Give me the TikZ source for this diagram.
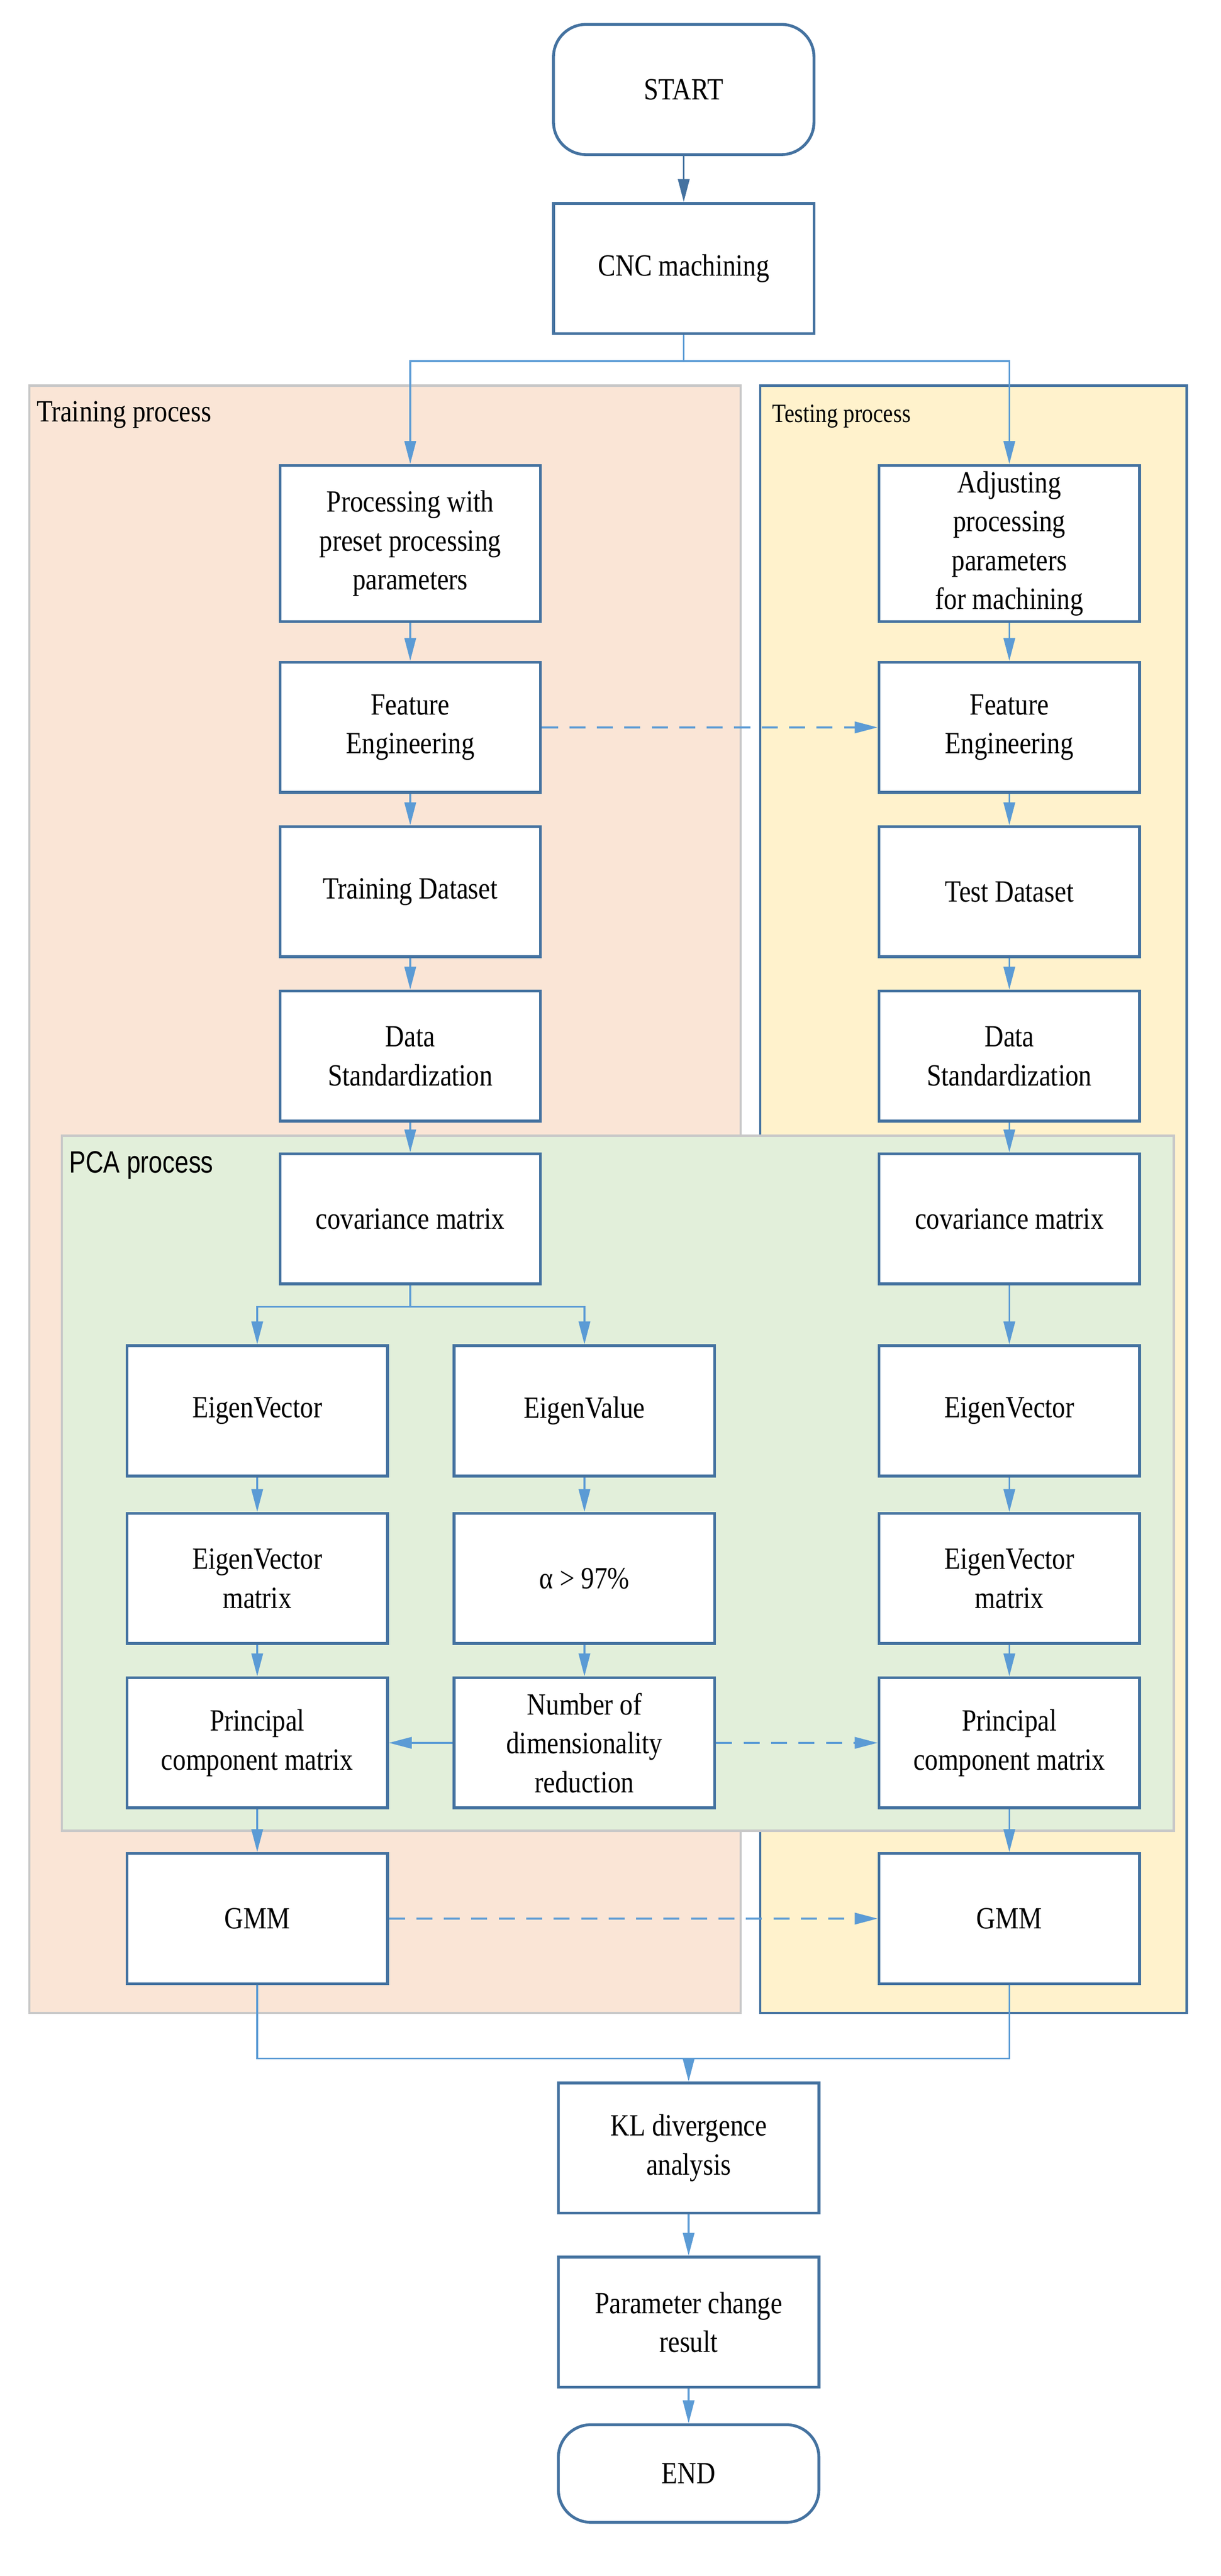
\documentclass[tikz,border=0pt]{standalone}
\usepackage{fontspec}
\setmainfont{Liberation Serif}[FakeStretch=0.85]
\newfontfamily\pcafont{Liberation Sans}[FakeStretch=0.8]
\usetikzlibrary{arrows.meta}
\definecolor{bordc}{RGB}{68,114,160}
\definecolor{linec}{RGB}{91,155,213}
\definecolor{trainc}{RGB}{250,229,214}
\definecolor{testc}{RGB}{255,242,204}
\definecolor{pcac}{RGB}{226,239,218}
\definecolor{grayb}{RGB}{200,200,200}
\begin{document}
\begin{tikzpicture}[
  box/.style={draw=bordc,line width=2.5pt,fill=white,minimum width=8cm,minimum height=4cm,align=center,font=\fontsize{27}{34}\selectfont,inner sep=2pt},
  tall/.style={box,minimum height=4.8cm},
  term/.style={box,rounded corners=1cm},
  arr/.style={draw=linec,line width=1.6pt,-{Triangle[length=20pt,width=10pt]}},
  ln/.style={draw=linec,line width=1.6pt},
  dsh/.style={arr,dash pattern=on 14pt off 10pt}
]
\useasboundingbox (0,0) rectangle (37.5,-79.15);
\fill[white] (0,0) rectangle (37.5,-79.15);
% backgrounds
\draw[grayb,fill=trainc,line width=2pt] (0.9,-11.85) rectangle (22.75,-61.85);
\draw[bordc,fill=testc,line width=2pt] (23.35,-11.85) rectangle (36.45,-61.85);
\draw[grayb,fill=pcac,line width=2pt] (1.9,-34.9) rectangle (36.05,-56.25);
\node[anchor=west,font=\fontsize{27}{32}\selectfont] (lt) at (1.0,-12.75) {Training process};
\node[anchor=west,font=\fontsize{23}{28}\selectfont] (ls) at (23.6,-12.8) {Testing process};
\node[anchor=west,font=\pcafont\fontsize{27}{32}\selectfont] (lp) at (2.0,-35.8) {PCA process};
% nodes
\node[term] (start) at (21,-2.75) {START};
\node[box] (cnc) at (21,-8.25) {CNC machining};
\node[tall] (proc) at (12.6,-16.7) {Processing with\\preset processing\\parameters};
\node[tall] (adj) at (31,-16.7) {Adjusting\\processing\\parameters\\for machining};
\node[box] (fe1) at (12.6,-22.35) {Feature\\Engineering};
\node[box] (fe2) at (31,-22.35) {Feature\\Engineering};
\node[box] (td1) at (12.6,-27.4) {Training Dataset};
\node[box] (td2) at (31,-27.4) {Test Dataset};
\node[box] (ds1) at (12.6,-32.45) {Data\\Standardization};
\node[box] (ds2) at (31,-32.45) {Data\\Standardization};
\node[box] (cv1) at (12.6,-37.45) {covariance matrix};
\node[box] (cv2) at (31,-37.45) {covariance matrix};
\node[box] (ev1) at (7.9,-43.35) {EigenVector};
\node[box] (eval) at (17.95,-43.35) {EigenValue};
\node[box] (ev2) at (31,-43.35) {EigenVector};
\node[box] (evm1) at (7.9,-48.5) {EigenVector\\matrix};
\node[box] (alpha) at (17.95,-48.5) {α > 97\%};
\node[box] (evm2) at (31,-48.5) {EigenVector\\matrix};
\node[box] (pc1) at (7.9,-53.55) {Principal\\component matrix};
\node[box] (num) at (17.95,-53.55) {Number of\\dimensionality\\reduction};
\node[box] (pc2) at (31,-53.55) {Principal\\component matrix};
\node[box] (g1) at (7.9,-58.95) {GMM};
\node[box] (g2) at (31,-58.95) {GMM};
\node[box] (kl) at (21.15,-66) {KL divergence\\analysis};
\node[box] (par) at (21.15,-71.35) {Parameter change\\result};
\node[term,minimum height=3cm] (end) at (21.15,-76) {END};
\coordinate (b1) at (21,-11.1);
\coordinate (b2) at (12.6,-40.15);
\coordinate (b3) at (21.15,-63.25);
% connectors
\draw[arr,draw=bordc] (start) -- (cnc);
\draw[ln] (cnc.south) -- (b1);
\draw[arr] (b1) -| (proc.north);
\draw[arr] (b1) -| (adj.north);
\draw[arr] (proc) -- (fe1);
\draw[arr] (adj) -- (fe2);
\draw[arr] (fe1) -- (td1);
\draw[arr] (fe2) -- (td2);
\draw[arr] (td1) -- (ds1);
\draw[arr] (td2) -- (ds2);
\draw[arr] (ds1) -- (cv1);
\draw[arr] (ds2) -- (cv2);
\draw[ln] (cv1.south) -- (b2);
\draw[arr] (b2) -| (ev1.north);
\draw[arr] (b2) -| (eval.north);
\draw[arr] (cv2) -- (ev2);
\draw[arr] (ev1) -- (evm1);
\draw[arr] (eval) -- (alpha);
\draw[arr] (ev2) -- (evm2);
\draw[arr] (evm1) -- (pc1);
\draw[arr] (alpha) -- (num);
\draw[arr] (evm2) -- (pc2);
\draw[arr] (num) -- (pc1);
\draw[dsh] (num) -- (pc2);
\draw[dsh] (fe1) -- (fe2);
\draw[arr] (pc1) -- (g1);
\draw[arr] (pc2) -- (g2);
\draw[dsh] (g1) -- (g2);
\draw[ln] (g1.south) |- (b3);
\draw[ln] (g2.south) |- (b3);
\draw[arr] (b3) -- (kl);
\draw[arr] (kl) -- (par);
\draw[arr] (par) -- (end);
\end{tikzpicture}
\end{document}
